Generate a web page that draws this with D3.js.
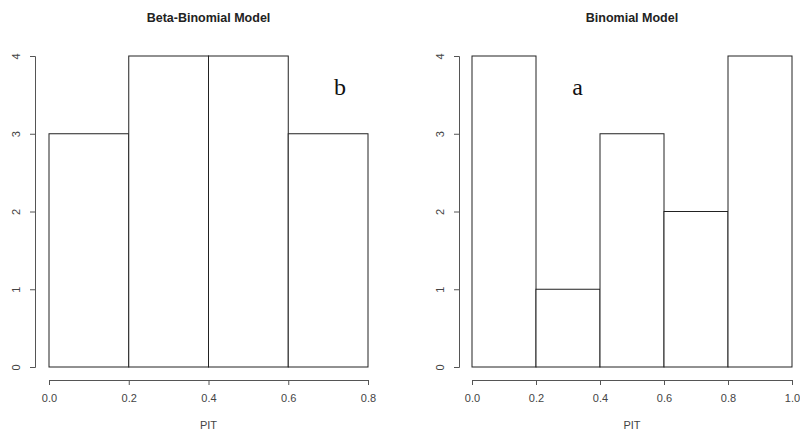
<!DOCTYPE html>
<html>
<head>
<meta charset="utf-8">
<script src="https://cdn.jsdelivr.net/npm/d3@7"></script>
<style>
  body { margin: 0; background: #fff; }
  svg text { font-family: "Liberation Sans", Arial, sans-serif; }
</style>
</head>
<body>
<div id="chart"></div>
<script>
// bin edges and counts
var betaBreaks = [0.0, 0.2, 0.4, 0.6, 0.8];
var betaCounts = [3, 4, 4, 3];
var binomBreaks = [0.0, 0.2, 0.4, 0.6, 0.8, 1.0];
var binomCounts = [4, 1, 3, 2, 4];
var yTicks = [0, 1, 2, 3, 4];

var svg = d3.select("#chart")
    .append("svg")
    .attr("width", 800)
    .attr("height", 432);

function histPanel(opts) {
    var x = d3.scaleLinear()
        .domain([opts.breaks[0], opts.breaks[opts.breaks.length - 1]])
        .range([opts.left, opts.right]);
    var y = d3.scaleLinear()
        .domain([0, 4])
        .range([367, 56]);

    var g = svg.append("g");

    // title
    g.append("text")
        .attr("x", (opts.left + opts.right) / 2)
        .attr("y", 22)
        .attr("text-anchor", "middle")
        .style("font-size", "12.5px")
        .style("font-weight", "bold")
        .style("fill", "#222")
        .text(opts.title);

    // bars
    var bins = opts.counts.map(function (c, i) {
        return { x0: opts.breaks[i], x1: opts.breaks[i + 1], count: c };
    });
    g.selectAll("rect.bar")
        .data(bins)
        .enter()
        .append("rect")
        .attr("class", "bar")
        .attr("x", function (d) { return x(d.x0); })
        .attr("y", function (d) { return y(d.count); })
        .attr("width", function (d) { return x(d.x1) - x(d.x0); })
        .attr("height", function (d) { return y(0) - y(d.count); })
        .style("fill", "#fff")
        .style("stroke", "#222")
        .style("stroke-width", 1);

    // x axis
    var xAxis = g.append("g")
        .attr("transform", "translate(0,380)")
        .call(d3.axisBottom(x)
            .tickValues(opts.breaks)
            .tickFormat(d3.format(".1f"))
            .tickSize(5)
            .tickPadding(9));
    xAxis.select(".domain").style("stroke", "#555");
    xAxis.selectAll(".tick line").style("stroke", "#555");
    xAxis.selectAll("text")
        .style("font-size", "11px")
        .style("fill", "#444");

    g.append("text")
        .attr("x", (opts.left + opts.right) / 2)
        .attr("y", 429)
        .attr("text-anchor", "middle")
        .style("font-size", "11px")
        .style("fill", "#444")
        .text("PIT");

    // y axis
    var yAxis = g.append("g")
        .attr("transform", "translate(" + opts.yAxisX + ",0)")
        .call(d3.axisLeft(y)
            .tickValues(yTicks)
            .tickFormat(d3.format("d"))
            .tickSize(5)
            .tickPadding(0));
    yAxis.select(".domain").style("stroke", "#555");
    yAxis.selectAll(".tick line").style("stroke", "#555");
    yAxis.selectAll("text")
        .attr("x", -15)
        .attr("dy", 0)
        .attr("transform", "rotate(-90,-15,0)")
        .style("text-anchor", "middle")
        .style("font-size", "11px")
        .style("fill", "#444");

    // panel letter
    g.append("text")
        .attr("x", x(opts.letterAt[0]))
        .attr("y", y(opts.letterAt[1]))
        .attr("text-anchor", "middle")
        .style("font-family", "'Liberation Serif', 'Times New Roman', serif")
        .style("font-size", "24px")
        .style("fill", "#111")
        .text(opts.letter);
}

histPanel({
    title: "Beta-Binomial Model",
    breaks: betaBreaks,
    counts: betaCounts,
    left: 49, right: 368, yAxisX: 35,
    letter: "b", letterAt: [0.73, 3.5]
});

histPanel({
    title: "Binomial Model",
    breaks: binomBreaks,
    counts: binomCounts,
    left: 472, right: 792, yAxisX: 459,
    letter: "a", letterAt: [0.33, 3.5]
});
</script>
</body>
</html>
